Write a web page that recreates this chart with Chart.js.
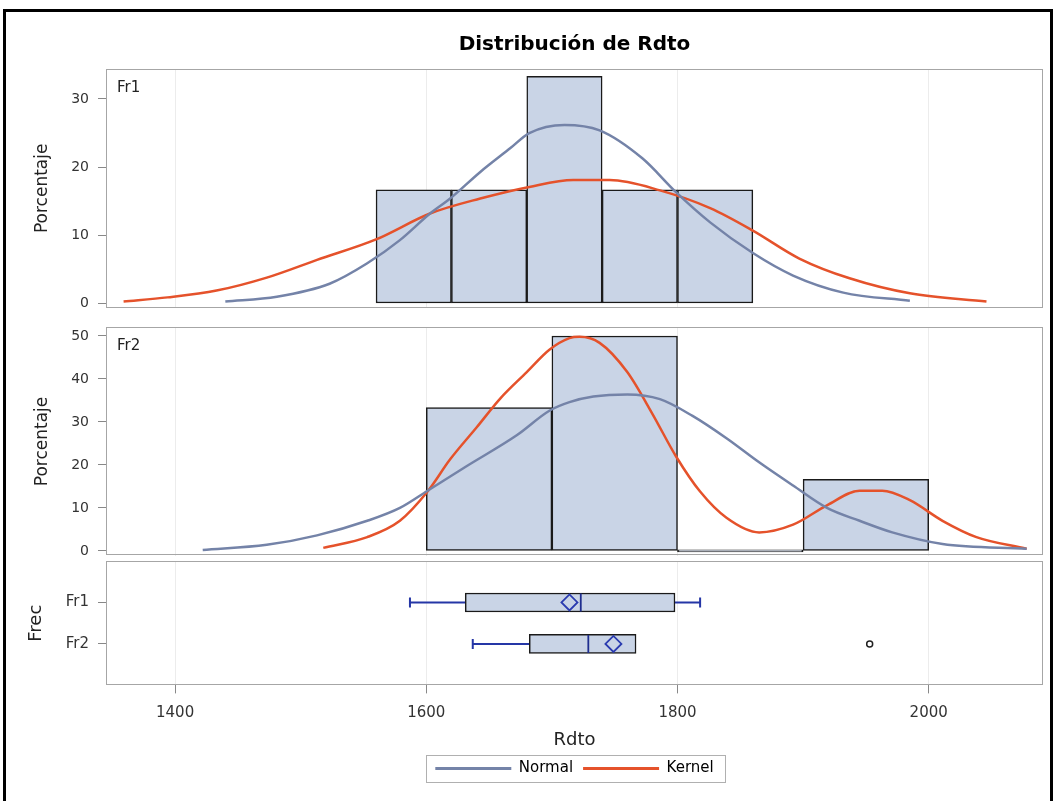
<!DOCTYPE html>
<html>
<head>
<meta charset="utf-8">
<script src="https://cdn.jsdelivr.net/npm/chart.js@4.4.1/dist/chart.umd.min.js"></script>
<style>
  html, body { margin: 0; padding: 0; background: #fff; }
  #wrap { position: relative; width: 1055px; height: 801px; overflow: hidden; background: #fff; }
  .pane { position: absolute; left: 0; width: 1055px; }
  #frame { position: absolute; left: 3px; top: 9px; width: 1050px; height: 800px; border: 3px solid #000; border-bottom: none; box-sizing: border-box; pointer-events: none; }
</style>
</head>
<body>
<div id="wrap">
  <div class="pane" style="top:0;height:325px"><canvas id="fr1Chart"></canvas></div>
  <div class="pane" style="top:310px;height:263px"><canvas id="fr2Chart"></canvas></div>
  <div class="pane" style="top:543px;height:258px"><canvas id="boxChart"></canvas></div>
  <div id="frame"></div>
</div>
<script>
// x axis (Rdto)
const xTicks = [1400, 1600, 1800, 2000];
const xMin = 1345, xMax = 2091;

// Fr1 histogram (bin width 60)
const fr1BinCenters = [1590, 1650, 1710, 1770, 1830];
const fr1Percent = [16.67, 16.67, 33.33, 16.67, 16.67];
const fr1NormalX = [1440, 1481, 1523, 1553, 1579, 1603, 1619, 1643, 1667, 1682, 1710, 1738, 1772, 1799, 1826, 1860, 1892, 1932, 1985];
const fr1NormalY = [0.3, 1.0, 2.9, 5.9, 9.3, 13.2, 15.4, 19.3, 22.8, 25.0, 26.2, 25.4, 21.3, 16.3, 11.9, 7.4, 4.1, 1.6, 0.4];
const fr1KernelX = [1359, 1394, 1433, 1473, 1513, 1560, 1603, 1643, 1682, 1717, 1746, 1786, 1826, 1860, 1897, 1937, 1985, 2046];
const fr1KernelY = [0.3, 0.9, 1.9, 3.8, 6.4, 9.4, 13.2, 15.4, 17.1, 18.1, 18.1, 16.6, 14.0, 10.7, 6.6, 3.7, 1.5, 0.3];
const fr1YTicks = [0, 10, 20, 30];

// Fr2 histogram (bin width 100)
const fr2BinCenters = [1650, 1750, 1850, 1950];
const fr2Percent = [33.33, 50, 0, 16.67];
const fr2NormalX = [1422, 1473, 1513, 1553, 1579, 1601, 1632, 1672, 1698, 1714, 1733, 1760, 1786, 1812, 1839, 1865, 1892, 1919, 1945, 1971, 2011, 2078];
const fr2NormalY = [0.2, 1.4, 3.6, 7.0, 10.0, 14.0, 19.7, 26.9, 32.6, 34.6, 35.9, 36.4, 35.3, 31.4, 26.2, 20.6, 15.2, 10.0, 7.0, 4.3, 1.6, 0.5];
const fr2KernelX = [1518, 1553, 1579, 1601, 1619, 1640, 1659, 1680, 1698, 1714, 1722, 1738, 1760, 1780, 1799, 1818, 1839, 1865, 1892, 1919, 1945, 1963, 1985, 2011, 2038, 2078];
const fr2KernelY = [0.7, 3.2, 7.0, 13.8, 21.3, 28.7, 35.5, 41.6, 46.8, 49.5, 49.8, 48.4, 41.6, 31.9, 21.9, 13.8, 7.7, 4.3, 6.1, 10.6, 14.0, 14.0, 11.8, 7.0, 3.2, 0.5];
const fr2YTicks = [0, 10, 20, 30, 40, 50];

// box plot
const groups = ['Fr1', 'Fr2'];
const boxLow = [1587, 1637];
const boxQ1 = [1631, 1682];
const boxMedian = [1723, 1729];
const boxMean = [1714, 1749];
const boxQ3 = [1798, 1767];
const boxHigh = [1818, 1767];
const outlierGroup = ['Fr2'];
const outlierValue = [1953];

const legendNames = ['Normal', 'Kernel'];

const normalColor = '#7483a8';
const kernelColor = '#e5522b';
const barFill = '#c9d4e6';
const whiskerColor = '#2536a6';

Chart.defaults.font.family = '"DejaVu Sans", sans-serif';
Chart.defaults.color = '#333';
Chart.defaults.animation = false;

const zip = (xs, ys) => xs.map((x, i) => ({ x: x, y: ys[i] }));
const setTicks = vals => scale => { scale.ticks = vals.map(v => ({ value: v })); };

const panelFrame = {
  id: 'panelFrame',
  afterDraw(chart) {
    const { ctx, chartArea: a } = chart;
    ctx.save();
    ctx.strokeStyle = '#a6a6a6';
    ctx.lineWidth = 1;
    ctx.strokeRect(Math.round(a.left) + 0.5, Math.round(a.top) + 0.5, Math.round(a.width) - 1, Math.round(a.height) - 1);
    ctx.restore();
  }
};

const insetLabel = {
  id: 'insetLabel',
  afterDraw(chart, args, opts) {
    if (!opts.text) return;
    const { ctx, chartArea: a } = chart;
    ctx.save();
    ctx.font = '15px "DejaVu Sans", sans-serif';
    ctx.fillStyle = '#222';
    ctx.textBaseline = 'middle';
    ctx.fillText(opts.text, a.left + 11, a.top + 19);
    ctx.restore();
  }
};

const legendFrame = {
  id: 'legendFrame',
  afterDraw(chart) {
    const boxes = chart.legend && chart.legend.legendHitBoxes;
    if (!boxes || !boxes.length) return;
    const left = Math.min(...boxes.map(b => b.left)) - 9;
    const right = Math.max(...boxes.map(b => b.left + b.width)) + 12;
    const top = Math.min(...boxes.map(b => b.top)) - 6;
    const bottom = Math.max(...boxes.map(b => b.top + b.height)) + 6;
    const ctx = chart.ctx;
    ctx.save();
    ctx.strokeStyle = '#b0b0b0';
    ctx.lineWidth = 1;
    ctx.strokeRect(Math.round(left) + 0.5, Math.round(top) + 0.5, Math.round(right - left), Math.round(bottom - top));
    ctx.restore();
  }
};

function yAxis(min, max, ticks, title, titlePad) {
  return {
    min: min,
    max: max,
    afterBuildTicks: setTicks(ticks),
    afterFit: s => { s.width = 106; },
    ticks: { font: { size: 14 }, color: '#333', padding: 9 },
    grid: { drawOnChartArea: false, tickLength: 8, color: '#888' },
    border: { display: false },
    title: { display: true, text: title, font: { size: 17 }, color: '#222', padding: { top: titlePad, bottom: 0 } }
  };
}

function histPanel(id, o) {
  new Chart(document.getElementById(id), {
    type: 'bar',
    data: {
      datasets: [
        {
          type: 'line', label: legendNames[0], data: zip(o.normalX, o.normalY),
          borderColor: normalColor, borderWidth: 2.5, pointRadius: 0,
          cubicInterpolationMode: 'monotone', order: 0
        },
        {
          type: 'line', label: legendNames[1], data: zip(o.kernelX, o.kernelY),
          borderColor: kernelColor, borderWidth: 2.5, pointRadius: 0,
          cubicInterpolationMode: 'monotone', order: 0
        },
        {
          type: 'bar', label: 'Porcentaje', data: zip(o.centers, o.percent),
          backgroundColor: barFill, borderColor: '#1a1a1a', borderWidth: 1.5,
          borderSkipped: false, barPercentage: 1, categoryPercentage: 1,
          minBarLength: 2, order: 1
        }
      ]
    },
    options: {
      responsive: true,
      maintainAspectRatio: false,
      layout: { padding: o.padding },
      scales: {
        x: {
          type: 'linear', min: xMin, max: xMax, offset: false,
          afterBuildTicks: setTicks(xTicks),
          ticks: { display: false },
          grid: { color: '#ececec', drawTicks: false, offset: false },
          border: { display: false }
        },
        y: yAxis(o.yMin, o.yMax, o.yTicks, 'Porcentaje', 32)
      },
      plugins: {
        legend: { display: false },
        tooltip: { enabled: false },
        title: o.title ? {
          display: true, text: o.title, fullSize: false, color: '#000',
          font: { size: 20, weight: 'bold' }, padding: { top: 33, bottom: 12 }
        } : { display: false },
        insetLabel: { text: o.label }
      }
    },
    plugins: [panelFrame, insetLabel]
  });
}

histPanel('fr1Chart', {
  centers: fr1BinCenters, percent: fr1Percent,
  normalX: fr1NormalX, normalY: fr1NormalY, kernelX: fr1KernelX, kernelY: fr1KernelY,
  yMin: -0.6, yMax: 34.4, yTicks: fr1YTicks, label: 'Fr1',
  title: 'Distribución de Rdto',
  padding: { left: 0, right: 12, top: 0, bottom: 3 }
});

histPanel('fr2Chart', {
  centers: fr2BinCenters, percent: fr2Percent,
  normalX: fr2NormalX, normalY: fr2NormalY, kernelX: fr2KernelX, kernelY: fr2KernelY,
  yMin: -1.1, yMax: 52.0, yTicks: fr2YTicks, label: 'Fr2',
  padding: { left: 0, right: 12, top: 1, bottom: 6 }
});

// box plot panel
const boxDatasets = [];
groups.forEach((g, i) => {
  boxDatasets.push({
    type: 'line', data: [{ x: boxLow[i], y: g }, { x: boxQ1[i], y: g }],
    borderColor: whiskerColor, borderWidth: 2, pointRadius: 0, order: 2
  });
  if (boxHigh[i] > boxQ3[i]) {
    boxDatasets.push({
      type: 'line', data: [{ x: boxQ3[i], y: g }, { x: boxHigh[i], y: g }],
      borderColor: whiskerColor, borderWidth: 2, pointRadius: 0, order: 2
    });
  }
});
const caps = [];
groups.forEach((g, i) => {
  caps.push({ x: boxLow[i], y: g });
  if (boxHigh[i] > boxQ3[i]) caps.push({ x: boxHigh[i], y: g });
});
boxDatasets.push({
  type: 'line', data: caps, showLine: false,
  pointStyle: 'line', rotation: 90, pointRadius: 5,
  borderColor: whiskerColor, borderWidth: 2, order: 2
});
boxDatasets.push({
  type: 'bar', data: groups.map((g, i) => ({ x: [boxQ1[i], boxQ3[i]], y: g })),
  backgroundColor: barFill, borderColor: '#1a1a1a', borderWidth: 1.5,
  borderSkipped: false, barThickness: 19, order: 1
});
boxDatasets.push({
  type: 'line', data: groups.map((g, i) => ({ x: boxMedian[i], y: g })), showLine: false,
  pointStyle: 'line', rotation: 90, pointRadius: 9,
  borderColor: '#1f2e8f', borderWidth: 1.8, order: 0
});
boxDatasets.push({
  type: 'line', data: groups.map((g, i) => ({ x: boxMean[i], y: g })), showLine: false,
  pointStyle: 'rectRot', pointRadius: 8,
  borderColor: '#2a3bb0', backgroundColor: 'rgba(0,0,0,0)', borderWidth: 1.8, order: 0
});
boxDatasets.push({
  type: 'line', data: outlierGroup.map((g, i) => ({ x: outlierValue[i], y: g })), showLine: false,
  pointStyle: 'circle', pointRadius: 3,
  borderColor: '#222', backgroundColor: '#fff', borderWidth: 1.5, order: 0
});

new Chart(document.getElementById('boxChart'), {
  type: 'bar',
  data: { labels: ['', 'Fr1', 'Fr2', ''], datasets: boxDatasets },
  options: {
    indexAxis: 'y',
    responsive: true,
    maintainAspectRatio: false,
    layout: { padding: { left: 0, right: 12, top: 1, bottom: 15 } },
    scales: {
      x: {
        type: 'linear', min: xMin, max: xMax, offset: false,
        afterBuildTicks: setTicks(xTicks),
        ticks: { font: { size: 15, lineHeight: 1 }, color: '#333', padding: 12, callback: v => String(v) },
        grid: { color: '#ececec', tickColor: '#888', tickLength: 8, offset: false },
        border: { display: false },
        title: { display: true, text: 'Rdto', font: { size: 18 }, color: '#222', padding: { top: -3, bottom: 0 } }
      },
      y: {
        type: 'category', offset: false,
        afterFit: s => { s.width = 106; },
        ticks: { font: { size: 15 }, color: '#333', padding: 9, autoSkip: false },
        grid: {
          drawOnChartArea: false, tickLength: 8, offset: false,
          tickColor: c => (c.tick && c.tick.label) ? '#888' : 'rgba(0,0,0,0)'
        },
        border: { display: false },
        title: { display: true, text: 'Frec', font: { size: 18 }, color: '#222', padding: { top: 26, bottom: 0 } }
      }
    },
    plugins: {
      tooltip: { enabled: false },
      legend: {
        position: 'bottom',
        fullSize: false,
        labels: {
          usePointStyle: true,
          pointStyleWidth: 76,
          padding: 10,
          font: { size: 15 },
          color: '#222',
          generateLabels: () => legendNames.map((name, i) => ({
            text: name,
            strokeStyle: i === 0 ? normalColor : kernelColor,
            fillStyle: i === 0 ? normalColor : kernelColor,
            lineWidth: 3,
            pointStyle: 'line',
            hidden: false,
            datasetIndex: i
          }))
        }
      }
    }
  },
  plugins: [panelFrame, legendFrame]
});
</script>
</body>
</html>
